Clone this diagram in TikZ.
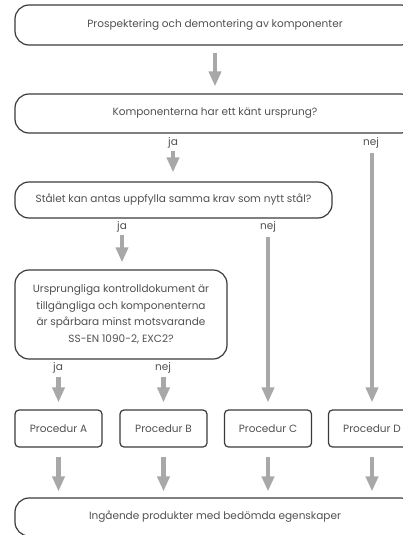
\documentclass[tikz,border=0pt]{standalone}
\usepackage{fontspec}
\setmainfont{Poppins}
\usetikzlibrary{arrows.meta}
\definecolor{txt}{HTML}{505050}
\definecolor{frame}{HTML}{3A3A3A}
\definecolor{arr}{HTML}{A8A8A8}
\tikzset{
  bigbox/.style={draw=frame, line width=1.2pt, rounded corners=14pt, text=txt, font=\fontsize{10.5}{13}\selectfont, align=center, inner sep=0pt},
  procbox/.style={draw=frame, line width=1.2pt, rounded corners=4pt, text=txt, font=\fontsize{10.5}{13}\selectfont, minimum width=87pt, minimum height=37pt, inner sep=0pt},
  lbl/.style={text=txt, font=\fontsize{10.5}{11}\selectfont, inner sep=0pt},
  flow/.style={draw=arr, line width=4.5pt, -{Triangle[length=15pt,width=12pt]}},
}
\begin{document}
\begin{tikzpicture}[x=1pt,y=1pt]
\useasboundingbox (0,0) rectangle (402,-535);
\node[bigbox, minimum width=400pt, minimum height=40pt] (top) at (215,-25) {Prospektering och demontering av komponenter};
\node[bigbox, minimum width=400pt, minimum height=39pt] (known) at (215,-113.5) {Komponenterna har ett känt ursprung?};
\node[lbl] (ja1) at (173,-143) {ja};
\node[lbl] (nej1) at (371,-143) {nej};
\node[bigbox, minimum width=317pt, minimum height=36pt] (steel) at (173.5,-200) {Stålet kan antas uppfylla samma krav som nytt stål?};
\node[lbl] (ja2) at (122,-227) {ja};
\node[lbl] (nej2) at (268,-227) {nej};
\node[bigbox, minimum width=212pt, minimum height=89pt, font=\fontsize{10.5}{16.5}\selectfont] (docs) at (121,-314.5) {Ursprungliga kontrolldokument är\\tillgängliga och komponenterna\\är spårbara minst motsvarande\\SS-EN 1090-2, EXC2?};
\node[lbl] (ja3) at (58,-368) {ja};
\node[lbl] (nej3) at (163,-368) {nej};
\node[procbox] (A) at (58.5,-428.5) {Procedur A};
\node[procbox] (B) at (163.5,-428.5) {Procedur B};
\node[procbox] (C) at (268,-428.5) {Procedur C};
\node[procbox] (D) at (372,-428.5) {Procedur D};
\node[bigbox, minimum width=400pt, minimum height=38pt] (out) at (215,-517) {Ingående produkter med bedömda egenskaper};

\draw[flow, shorten <=7pt, shorten >=7pt] (top.south) -- (known.north);
\draw[flow, shorten <=2pt, shorten >=9pt] (ja1.south) -- (ja1.south |- steel.north);
\draw[flow, shorten <=4pt, shorten >=7pt] (nej1.south -| D.north) -- (D.north);
\draw[flow, shorten <=2pt, shorten >=7pt] (ja2.south) -- (docs.north -| ja2.south);
\draw[flow, shorten <=4pt, shorten >=7pt] (nej2.south) -- (C.north);
\draw[flow, shorten <=3pt, shorten >=7pt] (ja3.south -| A.north) -- (A.north);
\draw[flow, shorten <=3pt, shorten >=7pt] (nej3.south -| B.north) -- (B.north);
\foreach \p in {A,B,C,D} {
  \draw[flow, shorten <=9pt, shorten >=6pt] (\p.south) -- (\p.south |- out.north);
}
\end{tikzpicture}
\end{document}
